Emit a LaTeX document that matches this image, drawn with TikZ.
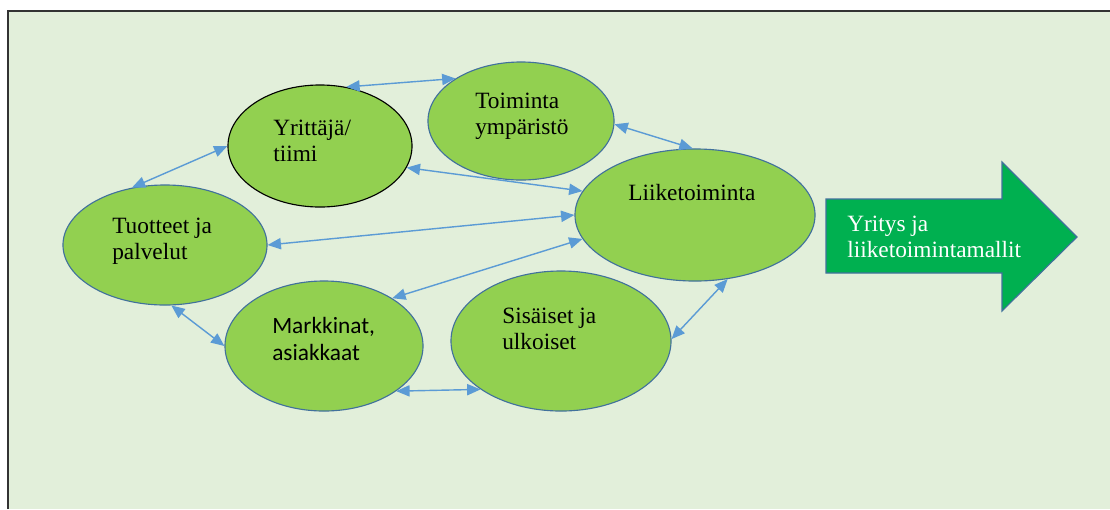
\documentclass[tikz,border=0pt]{standalone}
\usepackage{fontspec}
\setmainfont{Liberation Serif}
\newfontfamily\sansfnt{Carlito}
\usepackage{tikz}
\usetikzlibrary{arrows.meta,calc,shapes.geometric}
\definecolor{bggreen}{HTML}{E2EFDA}
\definecolor{ovalgreen}{HTML}{92D050}
\definecolor{ovalline}{HTML}{41719C}
\definecolor{linkblue}{HTML}{5B9BD5}
\definecolor{bigarrow}{HTML}{00B050}

\begin{document}
\begin{tikzpicture}[x=0.025cm,y=-0.025cm,
	oval/.style={ellipse,draw=ovalline,fill=ovalgreen,line width=0.8pt,inner sep=0pt},
	txt/.style={anchor=west,align=left,inner sep=0pt,font=\fontsize{16.6}{18.5}\selectfont},
	link/.style={draw=linkblue,line width=1pt,{Triangle[length=9.5pt,width=8pt]}-{Triangle[length=9.5pt,width=8pt]}}]
			\useasboundingbox (0,0) rectangle (1110,509);
			\fill[bggreen] (8,11) rectangle (1110,509);
			\draw[line width=1.4pt,black!80] (8,509) -- (8,11) -- (1110,11);
			% ovals
			\node[oval,draw=black,minimum width=4.6cm,minimum height=3.05cm] (yt) at (320,146) {};
			\node[oval,minimum width=4.65cm,minimum height=2.95cm] (tm) at (521,121) {};
			\node[oval,minimum width=6cm,minimum height=3.3cm] (lt) at (695,215) {};
			\node[oval,minimum width=5.1cm,minimum height=3cm] (tp) at (165,245) {};
			\node[oval,minimum width=4.95cm,minimum height=3.25cm] (ma) at (324,346) {};
			\node[oval,minimum width=5.5cm,minimum height=3.5cm] (su) at (561,341) {};
			\node[txt] (yt-t) at ($(yt)+(-47,-5)$) {Yrittäjä/\\tiimi};
			\node[txt] (tm-t) at ($(tm)+(-46,-4.5)$) {Toiminta\\ympäristö};
			\node[txt] (lt-t) at ($(lt)+(-67,-22.5)$) {Liiketoiminta};
			\node[txt] (tp-t) at ($(tp)+(-53,-3.5)$) {Tuotteet ja\\palvelut};
			\node[txt,font=\sansfnt\fontsize{16.6}{19.5}\selectfont] (ma-t) at ($(ma)+(-52,-7)$) {Markkinat,\\asiakkaat};
			\node[txt] (su-t) at ($(su)+(-59,-12.5)$) {Sisäiset ja\\ulkoiset};
			% links
			\foreach \a/\b in {yt.66/tm.147, tp.120/yt.180, tm.358/lt.92, yt.346/lt.168,
				tp.0/lt.180, ma.35/lt.192, tp.276/ma.180, ma.328/su.211, su.1/lt.297}{
				\draw[link] (\a) -- (\b);
			}
			% result arrow
			\draw[fill=bigarrow,draw=ovalline,line width=0.8pt] (826,199) -- (1002,199) -- (1002,162) -- (1077,237)
				-- (1002,311) -- (1002,273) -- (826,273) -- cycle;
			\node[txt,text=white] (ym-t) at (847,237) {Yritys ja\\liiketoimintamallit};
		\end{tikzpicture}
\end{document}
